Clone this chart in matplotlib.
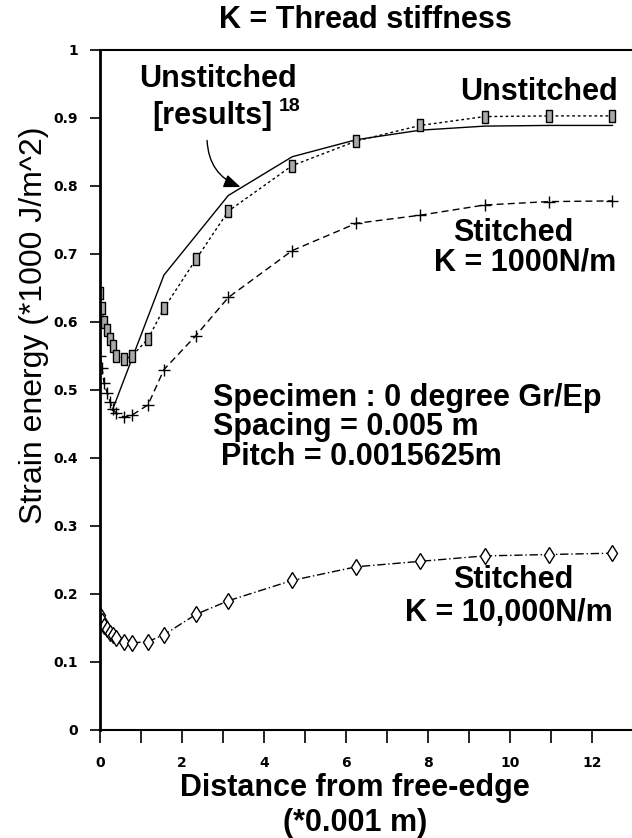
import matplotlib
matplotlib.use('Agg')
import matplotlib.pyplot as plt

# distance from free edge (*0.001 m)
x_nodes = [0, 0.05, 0.1, 0.18, 0.25, 0.31, 0.39, 0.59, 0.78, 1.17, 1.56,
           2.34, 3.13, 4.69, 6.25, 7.81, 9.38, 10.94, 12.5]

# strain energy (*1000 J/m^2)
unstitched = [0.642, 0.620, 0.600, 0.588, 0.575, 0.564, 0.550, 0.545, 0.550,
              0.575, 0.620, 0.692, 0.763, 0.830, 0.866, 0.889, 0.902, 0.903, 0.903]
stitched_1000 = [0.550, 0.532, 0.510, 0.495, 0.482, 0.472, 0.466, 0.460, 0.463,
                 0.478, 0.530, 0.580, 0.636, 0.705, 0.745, 0.757, 0.772, 0.777, 0.778]
stitched_10000 = [0.169, 0.160, 0.153, 0.148, 0.143, 0.139, 0.135, 0.130, 0.128,
                  0.130, 0.140, 0.170, 0.190, 0.220, 0.240, 0.248, 0.256, 0.258, 0.260]

# unstitched results from ref. 18
ref_x = [0.3, 1.56, 3.13, 4.69, 6.25, 7.81, 9.38, 10.94, 12.5]
ref_y = [0.470, 0.669, 0.786, 0.843, 0.868, 0.882, 0.888, 0.889, 0.889]

bold = dict(family='Liberation Sans', weight='bold', size=22)

fig = plt.figure(figsize=(6.32, 8.38), dpi=100)
ax = fig.add_axes([0.1582, 0.1289, 0.8418, 0.8115])

# tall rectangle marker
rect = [(-0.55, -1), (0.55, -1), (0.55, 1), (-0.55, 1), (-0.55, -1)]

ax.plot(ref_x, ref_y, color='black', lw=1.0)
ax.plot(x_nodes, unstitched, color='black', lw=1.0, ls=(0, (2, 2)),
        marker=rect, ms=9, mfc='#a9a9a9', mec='black', mew=1.0)
ax.plot(x_nodes, stitched_1000, color='black', lw=1.0, ls=(0, (5, 3)),
        marker='+', ms=8, mew=1.0)
ax.plot(x_nodes, stitched_10000, color='black', lw=1.0, ls=(0, (6, 2, 1, 2)),
        marker='d', ms=8, mfc='white', mec='black', mew=1.0)

ax.set_xlim(0, 12.976)
ax.set_ylim(0, 1)
ax.set_xticks(range(0, 13))
ax.set_xticklabels([str(i) if i % 2 == 0 else '' for i in range(0, 13)])
ax.set_yticks([0, 0.1, 0.2, 0.3, 0.4, 0.5, 0.6, 0.7, 0.8, 0.9, 1])
ax.set_yticklabels(['0', '0.1', '0.2', '0.3', '0.4', '0.5', '0.6', '0.7', '0.8', '0.9', '1'])
ax.tick_params(axis='x', direction='out', length=9, width=1.2, pad=10)
ax.tick_params(axis='y', direction='out', length=7, width=1.2, pad=9)
for lab in ax.get_xticklabels() + ax.get_yticklabels():
    lab.set_fontfamily('DejaVu Sans')
    lab.set_fontweight('bold')
    lab.set_fontsize(10)

ax.spines['right'].set_visible(False)
ax.spines['left'].set_linewidth(2.0)
ax.spines['bottom'].set_linewidth(1.5)
ax.spines['top'].set_linewidth(1.5)

# titles and labels
fig.text(0.578, 0.976, 'K = Thread stiffness', ha='center', va='center', **bold)
fig.text(0.054, 0.612, 'Strain energy (*1000 J/m^2)', rotation=90, ha='center',
         va='center', family='Liberation Sans', size=23)
fig.text(0.562, 0.060, 'Distance from free-edge', ha='center', va='center', **bold)
fig.text(0.562, 0.018, '(*0.001 m)', ha='center', va='center', **bold)

# annotations
ax.text(2.88, 0.958, 'Unstitched', ha='center', va='center', **bold)
ax.text(2.75, 0.903, '[results]', ha='center', va='center', **bold)
ax.text(4.36, 0.917, '18', ha='left', va='center', family='Liberation Sans',
        weight='bold', size=14)
ax.annotate('', xy=(3.49, 0.797), xytext=(2.61, 0.871),
            arrowprops=dict(arrowstyle='-|>,head_length=1.0,head_width=0.4',
                            color='black', lw=1.0,
                            connectionstyle='arc3,rad=0.35'))

ax.text(12.63, 0.938, 'Unstitched', ha='right', va='center', **bold)
ax.text(10.07, 0.731, 'Stitched', ha='center', va='center', **bold)
ax.text(12.6, 0.687, 'K = 1000N/m', ha='right', va='center', **bold)

ax.text(2.76, 0.488, 'Specimen : 0 degree Gr/Ep', ha='left', va='center', **bold)
ax.text(2.76, 0.445, 'Spacing = 0.005 m', ha='left', va='center', **bold)
ax.text(2.95, 0.402, 'Pitch = 0.0015625m', ha='left', va='center', **bold)

ax.text(10.07, 0.221, 'Stitched', ha='center', va='center', **bold)
ax.text(12.5, 0.172, 'K = 10,000N/m', ha='right', va='center', **bold)

plt.savefig('out.png', dpi=100)
